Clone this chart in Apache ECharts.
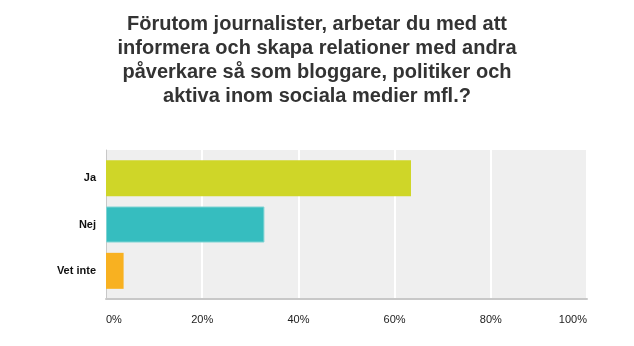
<!DOCTYPE html>
<html><head><meta charset="utf-8">
<script src="https://cdn.jsdelivr.net/npm/echarts@6/dist/echarts.min.js"></script>
<style>html,body{margin:0;padding:0;background:#fff}#c{width:634px;height:346px}</style>
</head><body><div id="c"></div>
<script>
const titleText = "Förutom journalister, arbetar du med att\ninformera och skapa relationer med andra\npåverkare så som bloggare, politiker och\naktiva inom sociala medier mfl.?";
const categories = ["Ja", "Nej", "Vet inte"];
const values = [63.41, 32.93, 3.66];
const barColors = ["#cfd628", "#36bdbf", "#f8b121"];
const xTicks = [0, 20, 40, 60, 80, 100];

const chart = echarts.init(document.getElementById('c'), null, {renderer: 'canvas'});
const font = 'Liberation Sans';
chart.setOption({
  animation: false,
  backgroundColor: '#ffffff',
  title: {
    text: titleText,
    left: 'center',
    top: 7,
    textStyle: {fontFamily: font, fontWeight: 'bold', fontSize: 20, lineHeight: 24, color: '#333333'}
  },
  grid: [
    {left: 106, right: 47, top: 150, bottom: 47, containLabel: false, show: true, backgroundColor: '#efefef', borderWidth: 0},
    {left: 106, right: 47, top: 155, bottom: 52, containLabel: false, show: false}
  ],
  xAxis: [{
    gridIndex: 0, type: 'value', min: 0, max: 100, interval: 20,
    axisLine: {show: true, lineStyle: {color: '#c8c8c8', width: 2}},
    axisTick: {show: false},
    splitLine: {show: true, lineStyle: {color: '#ffffff', width: 2}},
    axisLabel: {formatter: v => xTicks.includes(v) ? v + '%' : '', margin: 15, fontFamily: font, fontSize: 11, color: '#222', alignMinLabel: 'left', alignMaxLabel: 'right'}
  }, {
    gridIndex: 1, type: 'value', min: 0, max: 100, show: false
  }],
  yAxis: [{
    gridIndex: 0, type: 'category', data: categories, inverse: true,
    axisLine: {show: true, lineStyle: {color: '#c8c8c8', width: 1}},
    axisTick: {show: false},
    axisLabel: {show: false}
  }, {
    gridIndex: 1, type: 'category', data: categories, inverse: true,
    axisLine: {show: false},
    axisTick: {show: false},
    axisLabel: {fontFamily: font, fontSize: 11, fontWeight: 'bold', color: '#111', margin: 10}
  }],
  series: [{
    type: 'bar',
    xAxisIndex: 1, yAxisIndex: 1,
    barWidth: 36,
    data: values.map((v, i) => ({value: v, itemStyle: {color: barColors[i], borderColor: i === 1 ? '#7fd3d3' : barColors[i], borderWidth: i === 1 ? 1 : 0}}))
  }]
});
</script></body></html>
